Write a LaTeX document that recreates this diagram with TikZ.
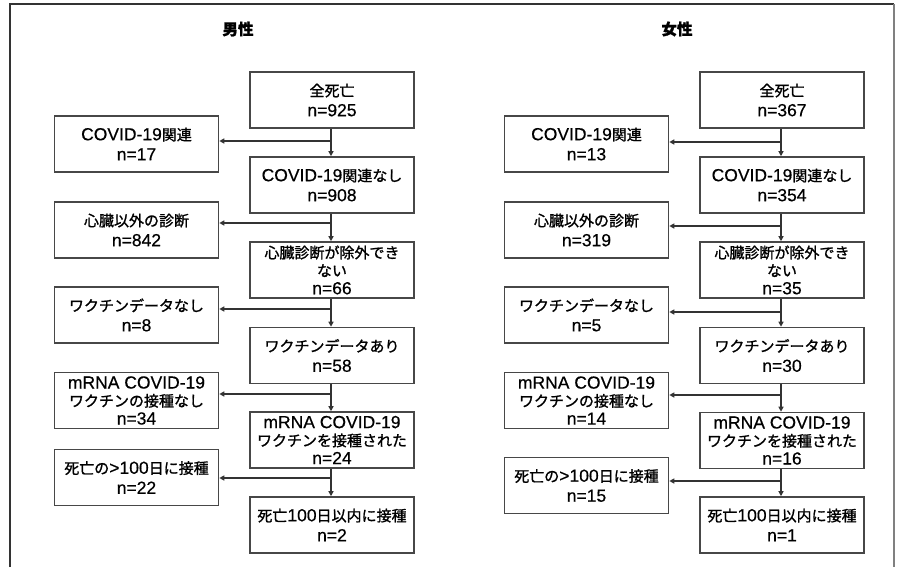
\documentclass[tikz,border=0pt]{standalone}
\usepackage{fontspec}
\newfontfamily\jp[FakeBold=1.2]{Noto Sans CJK JP}
\newfontfamily\latfont[Scale=1.1667,FakeBold=0.5]{Liberation Sans}
\newcommand\latn[1]{{\latfont #1}}
\usetikzlibrary{arrows.meta}
\begin{document}
\begin{tikzpicture}[x=1pt,y=-1pt,
  flowbox/.style={draw=black!72, line width=1.6pt, minimum width=164pt, minimum height=56pt,
    inner sep=0pt, align=center, font=\jp\fontsize{15}{20}\selectfont},
  tribox/.style={flowbox, font=\jp\fontsize{15}{18}\selectfont},
  link/.style={draw=black!80, line width=1.3pt},
  arr/.style={link, -{Triangle[length=5pt,width=5pt]}},
  ttl/.style={font=\jp\bfseries\fontsize{15.5}{18}\selectfont}]
\useasboundingbox (0,0) rectangle (901,567);
% outer frame
\draw[line width=1.5pt, black!80] (10,567) -- (10,4) -- (894,4);
\draw[line width=2pt, black!50] (894,4) -- (894,567);

% ---------- male ----------
\node[ttl] (mt) at (238,29) {男性};
\node[flowbox] (mr1) at (332,100) {全死亡\\\latn{n=925}};
\node[flowbox] (ml1) at (136.5,144) {\latn{COVID-19}関連\\\latn{n=17}};
\node[flowbox] (mr2) at (332,185) {\latn{COVID-19}関連なし\\\latn{n=908}};
\node[flowbox] (ml2) at (136.5,230) {心臓以外の診断\\\latn{n=842}};
\node[tribox] (mr3) at (332,270) {心臓診断が除外でき\\ない\\\latn{n=66}};
\node[flowbox] (ml3) at (136.5,315) {ワクチンデータなし\\\latn{n=8}};
\node[flowbox] (mr4) at (332,355.5) {ワクチンデータあり\\\latn{n=58}};
\node[tribox] (ml4) at (136.5,400.5) {\latn{mRNA COVID-19}\\ワクチンの接種なし\\\latn{n=34}};
\node[tribox] (mr5) at (332,440) {\latn{mRNA COVID-19}\\ワクチンを接種された\\\latn{n=24}};
\node[flowbox] (ml5) at (136.5,477.5) {死亡の\latn{>100}日に接種\\\latn{n=22}};
\node[flowbox] (mr6) at (332,525) {死亡\latn{100}日以内に接種\\\latn{n=2}};

\coordinate (mb1) at (331,141);
\coordinate (mb2) at (331,223);
\coordinate (mb3) at (331,309);
\coordinate (mb4) at (331,394);
\coordinate (mb5) at (331,478);

\draw[link] (mr1.south -| mb1) -- (mb1);
\draw[arr] (mb1) -- (mr2.north -| mb1);
\draw[arr] (mb1) -- (mb1 -| ml1.east);
\draw[link] (mr2.south -| mb2) -- (mb2);
\draw[arr] (mb2) -- (mr3.north -| mb2);
\draw[arr] (mb2) -- (mb2 -| ml2.east);
\draw[link] (mr3.south -| mb3) -- (mb3);
\draw[arr] (mb3) -- (mr4.north -| mb3);
\draw[arr] (mb3) -- (mb3 -| ml3.east);
\draw[link] (mr4.south -| mb4) -- (mb4);
\draw[arr] (mb4) -- (mr5.north -| mb4);
\draw[arr] (mb4) -- (mb4 -| ml4.east);
\draw[link] (mr5.south -| mb5) -- (mb5);
\draw[arr] (mb5) -- (mr6.north -| mb5);
\draw[arr] (mb5) -- (mb5 -| ml5.east);

% ---------- female ----------
\node[ttl] (ft) at (677,29) {女性};
\node[flowbox] (fr1) at (782,100) {全死亡\\\latn{n=367}};
\node[flowbox] (fl1) at (586.5,144) {\latn{COVID-19}関連\\\latn{n=13}};
\node[flowbox] (fr2) at (782,185) {\latn{COVID-19}関連なし\\\latn{n=354}};
\node[flowbox] (fl2) at (586.5,230) {心臓以外の診断\\\latn{n=319}};
\node[tribox] (fr3) at (782,270) {心臓診断が除外でき\\ない\\\latn{n=35}};
\node[flowbox] (fl3) at (586.5,315) {ワクチンデータなし\\\latn{n=5}};
\node[flowbox] (fr4) at (782,355.5) {ワクチンデータあり\\\latn{n=30}};
\node[tribox] (fl4) at (586.5,400.5) {\latn{mRNA COVID-19}\\ワクチンの接種なし\\\latn{n=14}};
\node[tribox] (fr5) at (782,440.5) {\latn{mRNA COVID-19}\\ワクチンを接種された\\\latn{n=16}};
\node[flowbox] (fl5) at (586.5,485.5) {死亡の\latn{>100}日に接種\\\latn{n=15}};
\node[flowbox] (fr6) at (782,525) {死亡\latn{100}日以内に接種\\\latn{n=1}};

\coordinate (fb1) at (781,142);
\coordinate (fb2) at (781,226);
\coordinate (fb3) at (781,312);
\coordinate (fb4) at (781,395);
\coordinate (fb5) at (781,481);

\draw[link] (fr1.south -| fb1) -- (fb1);
\draw[arr] (fb1) -- (fr2.north -| fb1);
\draw[arr] (fb1) -- (fb1 -| fl1.east);
\draw[link] (fr2.south -| fb2) -- (fb2);
\draw[arr] (fb2) -- (fr3.north -| fb2);
\draw[arr] (fb2) -- (fb2 -| fl2.east);
\draw[link] (fr3.south -| fb3) -- (fb3);
\draw[arr] (fb3) -- (fr4.north -| fb3);
\draw[arr] (fb3) -- (fb3 -| fl3.east);
\draw[link] (fr4.south -| fb4) -- (fb4);
\draw[arr] (fb4) -- (fr5.north -| fb4);
\draw[arr] (fb4) -- (fb4 -| fl4.east);
\draw[link] (fr5.south -| fb5) -- (fb5);
\draw[arr] (fb5) -- (fr6.north -| fb5);
\draw[arr] (fb5) -- (fb5 -| fl5.east);
\end{tikzpicture}
\end{document}
